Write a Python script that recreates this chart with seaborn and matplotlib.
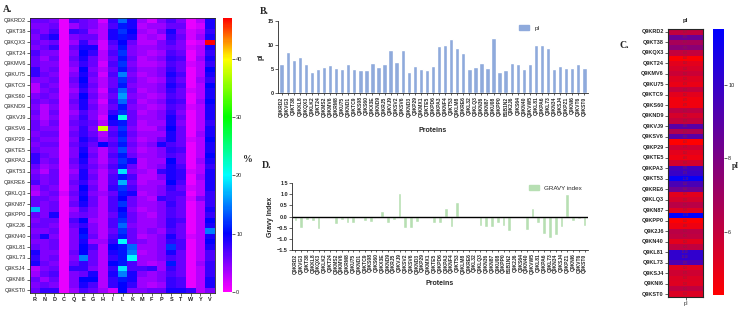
import numpy as np
import pandas as pd
import matplotlib
matplotlib.use("Agg")
import matplotlib.pyplot as plt
from matplotlib.colors import LinearSegmentedColormap
from matplotlib.patches import Patch
import seaborn as sns

proteins = ["Q9KRD2", "Q9KVG3", "Q9KT38", "Q9KKL8", "Q9KQX3", "Q9KLK2", "Q9KT24", "Q9KMS2",
            "Q9KMV6", "Q9KRM8", "Q9KU75", "Q9KND1", "Q9KTC9", "Q9KS08", "Q9KS60", "Q9KX3E",
            "Q9KND9", "Q9KRJ5", "Q9KVJ9", "Q9KSV2", "Q9KSV6", "Q9KND3", "Q9KP29", "Q9KMX1",
            "Q9KTE5", "Q9KPD6", "Q9KPA3", "Q9KNF4", "Q9KT53", "Q9KLM8", "Q9KRE6", "Q9KL32",
            "Q9KLQ3", "Q9KN36", "Q9KN87", "Q9KU08", "Q9KPP0", "B1B1N2", "Q9K2J6", "Q9KS64",
            "Q9KN40", "Q9KVW5", "Q9KL81", "Q9KPA6", "Q9KL73", "Q9KN34", "Q9KSJ4", "Q9KPZ1",
            "Q9KNI6", "Q9KVT6", "Q9KST0"]

amino_acids = ["R", "N", "D", "C", "Q", "E", "G", "H", "I", "L", "K", "M", "F", "P", "S", "T", "W", "Y", "V"]

pI = [6.1, 8.5, 6.8, 7.6, 6.0, 4.4, 5.1, 5.4, 5.8, 5.2, 4.9, 6.0, 5.1, 4.7, 4.7, 6.2,
      5.5, 6.0, 9.0, 6.5, 9.0, 4.3, 5.7, 5.1, 4.8, 5.6, 9.7, 9.9, 11.3, 9.4, 8.4, 5.1,
      5.5, 6.25, 5.2, 11.5, 4.4, 4.8, 6.25, 6.1, 5.1, 6.1, 10.1, 10.1, 9.3, 5.1, 5.7,
      5.3, 5.2, 6.1, 5.3]

gravy = [-0.18, -0.52, -0.15, -0.22, -0.57, -0.08, -0.01, -0.33, -0.17, -0.27, -0.31,
         -0.06, -0.18, -0.25, -0.08, 0.24, -0.27, -0.15, 1.04, -0.50, -0.50, -0.25, 0.0,
         -0.07, -0.30, -0.30, 0.37, -0.46, 0.67, -0.01, 0.0, -0.08, -0.43, -0.48, -0.45,
         -0.31, -0.42, -0.63, 0.0, 0.0, -0.60, 0.36, -0.30, -0.78, -0.96, -0.84, -0.48,
         1.00, -0.22, -0.10, -0.43]

# amino-acid composition (%), rows follow `proteins`, columns follow `amino_acids`
composition = [
    [6, 6, 5, 1, 7, 6, 5, 2, 8, 14, 9, 4, 2, 5, 7, 5, 1, 3, 9],
    [5, 5, 6, 1, 4, 6, 5, 3, 7, 11, 9, 3, 4, 4, 6, 6, 1, 2, 9],
    [6, 5, 7, 1, 8, 7, 4, 3, 9, 12, 10, 4, 3, 5, 9, 5, 2, 3, 8],
    [5, 7, 9, 1, 5, 6, 6, 3, 9, 11, 9, 3, 4, 3, 8, 6, 2, 4, 9],
    [6, 5, 6, 1, 4, 8, 5, 2, 7, 10, 6, 3, 3, 5, 7, 5, 1, 2, 47],
    [5, 6, 8, 1, 6, 9, 9, 2, 6, 11, 5, 4, 4, 5, 6, 5, 2, 3, 9],
    [7, 5, 5, 1, 5, 10, 8, 3, 7, 12, 5, 4, 3, 4, 7, 6, 1, 3, 8],
    [6, 4, 6, 1, 6, 9, 6, 3, 6, 11, 6, 3, 4, 5, 8, 7, 1, 4, 9],
    [6, 5, 5, 1, 5, 8, 6, 2, 7, 12, 5, 3, 3, 4, 7, 6, 2, 3, 8],
    [8, 5, 6, 1, 4, 10, 5, 3, 6, 11, 6, 4, 4, 5, 8, 6, 1, 3, 10],
    [8, 6, 5, 1, 5, 9, 6, 2, 7, 15, 5, 3, 4, 5, 9, 7, 1, 3, 9],
    [5, 5, 6, 1, 6, 10, 5, 3, 6, 12, 6, 4, 3, 4, 8, 6, 1, 4, 8],
    [3, 6, 5, 1, 5, 9, 6, 3, 6, 11, 5, 4, 4, 5, 9, 7, 1, 3, 10],
    [3, 5, 6, 1, 4, 8, 5, 2, 7, 14, 6, 3, 4, 5, 8, 6, 2, 3, 9],
    [5, 6, 5, 1, 5, 10, 6, 3, 6, 16, 5, 4, 3, 4, 7, 6, 1, 3, 9],
    [6, 5, 6, 1, 6, 9, 5, 2, 7, 14, 6, 3, 4, 5, 8, 7, 1, 4, 10],
    [5, 3, 5, 1, 5, 9, 6, 3, 6, 11, 5, 4, 3, 4, 7, 6, 2, 3, 9],
    [6, 3, 6, 1, 4, 7, 5, 3, 8, 12, 6, 3, 4, 5, 8, 5, 1, 3, 9],
    [5, 3, 5, 1, 5, 8, 5, 2, 10, 21, 6, 4, 4, 5, 9, 6, 1, 3, 9],
    [6, 4, 6, 1, 6, 7, 6, 3, 9, 11, 6, 3, 4, 4, 9, 5, 1, 3, 8],
    [6, 5, 5, 1, 5, 8, 5, 38, 6, 12, 5, 3, 3, 5, 10, 6, 1, 3, 9],
    [5, 6, 6, 1, 6, 8, 6, 3, 7, 11, 6, 4, 4, 4, 9, 6, 1, 4, 9],
    [6, 5, 5, 1, 5, 9, 7, 4, 6, 12, 5, 3, 4, 6, 9, 6, 2, 3, 10],
    [5, 6, 6, 1, 6, 8, 6, 10, 7, 11, 6, 4, 5, 9, 7, 6, 1, 3, 9],
    [6, 5, 5, 1, 5, 9, 5, 3, 6, 13, 5, 3, 4, 5, 8, 7, 1, 3, 9],
    [8, 6, 5, 1, 5, 10, 6, 3, 7, 11, 6, 4, 4, 5, 7, 6, 1, 3, 10],
    [8, 5, 6, 1, 6, 9, 5, 3, 6, 12, 9, 3, 4, 4, 10, 6, 1, 4, 9],
    [6, 4, 5, 1, 5, 8, 6, 4, 7, 11, 6, 3, 4, 5, 9, 7, 1, 3, 8],
    [5, 3, 6, 1, 4, 9, 5, 3, 6, 19, 5, 4, 3, 8, 9, 8, 2, 3, 9],
    [6, 5, 6, 1, 5, 9, 6, 3, 7, 11, 7, 3, 3, 5, 9, 8, 1, 4, 9],
    [7, 5, 6, 1, 6, 8, 5, 3, 7, 17, 6, 3, 4, 4, 10, 7, 1, 3, 9],
    [4, 6, 5, 1, 5, 10, 6, 3, 8, 12, 7, 4, 4, 5, 8, 6, 2, 3, 9],
    [3, 5, 6, 2, 6, 9, 5, 4, 6, 11, 9, 3, 4, 5, 7, 7, 1, 3, 8],
    [6, 6, 5, 1, 5, 10, 6, 3, 7, 10, 6, 4, 3, 8, 7, 6, 2, 5, 8],
    [6, 5, 6, 1, 6, 9, 6, 3, 7, 12, 6, 4, 4, 5, 8, 6, 1, 3, 8],
    [17, 5, 6, 1, 4, 7, 5, 3, 7, 10, 5, 3, 4, 5, 7, 6, 1, 3, 9],
    [6, 5, 9, 1, 5, 6, 5, 3, 6, 11, 6, 4, 3, 5, 7, 6, 1, 3, 8],
    [5, 6, 6, 1, 7, 10, 4, 3, 7, 12, 6, 4, 4, 5, 8, 7, 1, 3, 10],
    [6, 6, 5, 1, 6, 8, 5, 3, 7, 14, 5, 4, 4, 5, 8, 6, 1, 3, 9],
    [5, 5, 6, 1, 5, 10, 5, 3, 6, 12, 6, 4, 5, 4, 7, 6, 1, 3, 15],
    [6, 9, 5, 1, 5, 11, 6, 3, 7, 11, 6, 3, 4, 5, 9, 6, 2, 3, 9],
    [5, 5, 6, 1, 5, 9, 4, 4, 8, 20, 6, 5, 4, 5, 8, 7, 1, 3, 10],
    [6, 5, 6, 1, 5, 10, 7, 3, 10, 11, 14, 4, 4, 5, 12, 7, 1, 3, 9],
    [9, 5, 5, 1, 6, 10, 6, 3, 9, 11, 15, 3, 4, 5, 9, 6, 1, 3, 7],
    [8, 5, 6, 1, 5, 15, 6, 3, 8, 11, 20, 4, 4, 5, 7, 6, 1, 3, 7],
    [9, 6, 5, 1, 6, 8, 6, 3, 10, 11, 7, 4, 3, 4, 11, 6, 1, 4, 8],
    [3, 5, 6, 1, 8, 8, 5, 3, 8, 19, 7, 7, 8, 4, 8, 6, 1, 3, 8],
    [4, 6, 7, 1, 5, 6, 9, 3, 9, 15, 9, 5, 4, 5, 7, 6, 1, 3, 8],
    [6, 4, 6, 1, 5, 10, 10, 3, 8, 11, 9, 4, 4, 5, 8, 7, 1, 3, 9],
    [5, 6, 5, 1, 5, 9, 7, 3, 8, 10, 8, 4, 3, 4, 8, 7, 1, 3, 9],
    [6, 8, 8, 1, 4, 7, 6, 4, 2, 10, 5, 5, 6, 6, 9, 9, 8, 3, 5],
]

sns.set_style("ticks")
plt.rcParams["font.family"] = ["Liberation Sans", "DejaVu Sans"]
plt.rcParams["axes.linewidth"] = 0.6

W, H = 739, 309
fig = plt.figure(figsize=(W / 100, H / 100), dpi=100)

def rect(x0, y0, x1, y1):
    return [x0 / W, 1 - y1 / H, (x1 - x0) / W, (y1 - y0) / H]

# ---------- Panel A ----------
axA = fig.add_axes(rect(30, 18, 215, 293))
caxA = fig.add_axes(rect(223, 18, 232, 292))
cmapA = LinearSegmentedColormap.from_list(
    "aa", [(0, "#ff00ff"), (10 / 47, "#0000ff"), (20 / 47, "#00ffff"),
           (30 / 47, "#00ff00"), (40 / 47, "#ffff00"), (1.0, "#ff0000")])
dfA = pd.DataFrame(composition, index=proteins, columns=amino_acids)
sns.heatmap(dfA, ax=axA, cbar_ax=caxA, cmap=cmapA, vmin=0, vmax=47,
            xticklabels=True, yticklabels=2)
axA.tick_params(axis="both", labelsize=4, length=2, width=0.5, pad=1)
axA.set_yticklabels(axA.get_yticklabels(), rotation=0)
axA.set_xticklabels(axA.get_xticklabels(), rotation=0, fontweight="bold")
for s in axA.spines.values():
    s.set_visible(True)
    s.set_linewidth(0.6)
caxA.tick_params(labelsize=4, length=2, width=0.5, pad=1)
caxA.set_yticks([0, 10, 20, 30, 40])
caxA.set_ylabel("%", rotation=0, fontsize=7, fontweight="bold",
                family="Liberation Serif", labelpad=4)
fig.text(3 / W, 1 - 10 / H, "A.", fontsize=7, fontweight="bold",
         family="Liberation Serif", va="center")

# ---------- Panel B ----------
bar_blue = "#8FAADC"
axB = fig.add_axes(rect(278, 21, 588, 93))
dfB = pd.DataFrame({"Protein": proteins, "pI": pI})
sns.barplot(data=dfB, x="Protein", y="pI", color=bar_blue, width=0.72,
            saturation=1, ax=axB)
axB.set_ylim(0, 15)
axB.set_yticks([0, 5, 10, 15])
axB.set_xlim(-0.6, len(proteins) - 0.4)
axB.tick_params(axis="x", labelsize=3.6, rotation=90, length=1.5, width=0.5, pad=1)
axB.tick_params(axis="y", labelsize=4, length=2, width=0.5, pad=1)
for lab in axB.get_xticklabels() + axB.get_yticklabels():
    lab.set_fontweight("bold")
axB.set_xlabel("Proteins", fontsize=5, fontweight="bold", labelpad=7)
axB.set_ylabel("pI", fontsize=5, fontweight="bold", labelpad=2)
sns.despine(ax=axB)
axB.legend(handles=[Patch(color=bar_blue, label="pI")], loc="upper left",
           bbox_to_anchor=(0.76, 1.02), frameon=False, fontsize=4.5,
           handlelength=1.6, handleheight=0.8)
fig.text(260 / W, 1 - 12 / H, "B.", fontsize=7, fontweight="bold",
         family="Liberation Serif", va="center")

# ---------- Panel D ----------
bar_green = "#B7DFB3"
axD = fig.add_axes(rect(292, 183, 588, 250))
dfD = pd.DataFrame({"Protein": proteins, "GRAVY": gravy})
sns.barplot(data=dfD, x="Protein", y="GRAVY", color=bar_green, width=0.65,
            saturation=1, ax=axD)
axD.axhline(0, color="black", lw=1.0)
axD.set_ylim(-1.5, 1.5)
axD.set_yticks([-1.5, -1.0, -0.5, 0.0, 0.5, 1.0, 1.5])
axD.set_xlim(-0.6, len(proteins) - 0.4)
axD.tick_params(axis="x", labelsize=3.6, rotation=90, length=1.5, width=0.5, pad=1)
axD.tick_params(axis="y", labelsize=4, length=2, width=0.5, pad=1)
for lab in axD.get_xticklabels() + axD.get_yticklabels():
    lab.set_fontweight("bold")
axD.set_xlabel("Proteins", fontsize=5, fontweight="bold", labelpad=4)
axD.set_ylabel("Gravy Index", fontsize=5, fontweight="bold", labelpad=2)
sns.despine(ax=axD)
axD.legend(handles=[Patch(color=bar_green, label="GRAVY index")], loc="upper left",
           bbox_to_anchor=(0.78, 1.05), frameon=False, fontsize=4.5,
           handlelength=1.6, handleheight=0.8)
fig.text(262 / W, 1 - 165 / H, "D.", fontsize=7, fontweight="bold",
         family="Liberation Serif", va="center")

# ---------- Panel C ----------
axC = fig.add_axes(rect(668, 29.3, 703, 296.7))
caxC = fig.add_axes(rect(713, 29.3, 724, 295))
cmapC = LinearSegmentedColormap.from_list("rb", ["#ff0000", "#0000ff"])
dfC = pd.DataFrame({"pI": pI}, index=proteins)
sns.heatmap(dfC, ax=axC, cbar_ax=caxC, cmap=cmapC, annot=True, fmt=".2f",
            annot_kws={"fontsize": 1.8, "color": "#8a2040"},
            xticklabels=True, yticklabels=2)
axC.tick_params(axis="y", labelsize=4, length=2, width=0.5, pad=1)
axC.tick_params(axis="x", labelsize=4, length=2, width=0.5, pad=1)
axC.set_yticklabels(axC.get_yticklabels(), rotation=0, fontweight="bold")
axC.set_xticklabels(axC.get_xticklabels(), rotation=0)
for s in axC.spines.values():
    s.set_visible(True)
    s.set_linewidth(0.8)
axC.set_title("pI", fontsize=4.5, fontweight="bold", pad=5)
caxC.tick_params(labelsize=4, length=2, width=0.5, pad=1)
caxC.set_yticks([6, 8, 10])
caxC.set_ylabel("pI", rotation=0, fontsize=5.5, fontweight="bold",
                family="Liberation Serif", labelpad=1)
fig.text(620 / W, 1 - 45 / H, "C.", fontsize=7, fontweight="bold",
         family="Liberation Serif", va="center")

fig.savefig("out.png", dpi=100)
